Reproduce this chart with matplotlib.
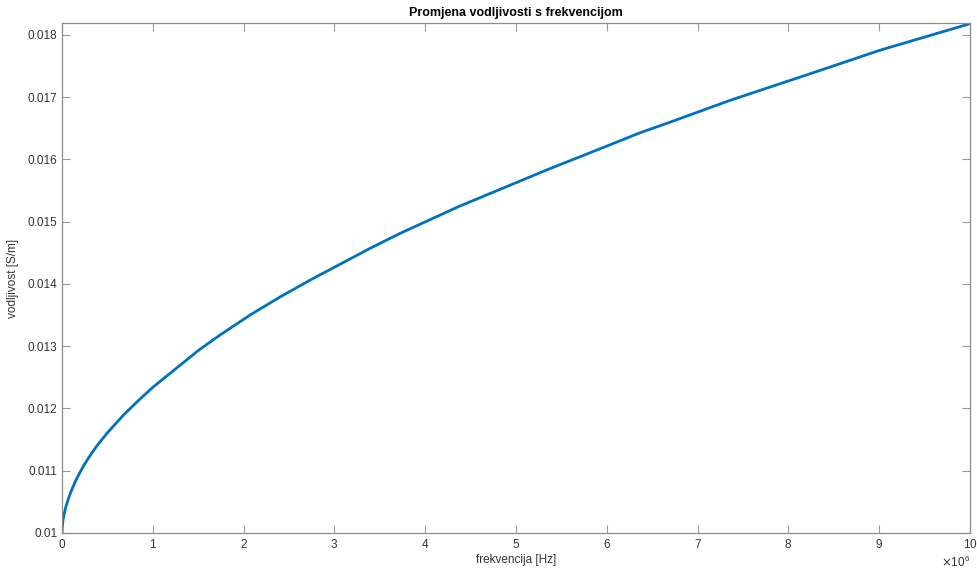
import matplotlib
matplotlib.use("Agg")
import matplotlib.pyplot as plt

# frequency in units of 1e6 Hz
freq_mhz = [0, 0.002, 0.005, 0.01, 0.02, 0.04, 0.07, 0.1, 0.15, 0.2, 0.25,
            0.33, 0.4, 0.5, 0.68, 0.85, 1.0, 1.5, 1.74, 2.07, 2.4, 2.73,
            3.39, 3.72, 4.38, 4.71, 5.37, 5.7, 6.37, 6.7, 7.36, 7.69, 8.35,
            9.0, 10.0]
# conductivity in S/m
sigma = [0.01, 0.01008, 0.01013, 0.0102, 0.01028, 0.01041, 0.01055, 0.01067,
         0.01084, 0.01098, 0.01111, 0.01129, 0.01143, 0.01161, 0.0119, 0.01214,
         0.01234, 0.01293, 0.01318, 0.0135, 0.01379, 0.01406, 0.01457,
         0.01481, 0.01525, 0.01545, 0.01585, 0.01604, 0.01643, 0.0166,
         0.01695, 0.01711, 0.01743, 0.01775, 0.01818]

freq_hz = [f * 1e6 for f in freq_mhz]

plt.rcParams['font.family'] = ['Liberation Sans', 'DejaVu Sans']
plt.rcParams['font.size'] = 8.5

fig = plt.figure(figsize=(9.77, 5.77), dpi=100)
ax = fig.add_axes([0.0635, 0.0763, 0.9293, 0.8837])

ax.plot(freq_hz, sigma, color='#0072BD', linewidth=2)

ax.set_xlim(0, 1e7)
ax.set_ylim(0.01, 0.01819)
ax.set_xticks([i * 1e6 for i in range(11)])
ax.set_yticks([0.010, 0.011, 0.012, 0.013, 0.014, 0.015, 0.016, 0.017, 0.018])
ax.set_yticklabels(['0.01', '0.011', '0.012', '0.013', '0.014', '0.015',
                    '0.016', '0.017', '0.018'])
ax.ticklabel_format(axis='x', style='sci', scilimits=(6, 6), useMathText=True)

ax.tick_params(direction='in', length=6, width=0.8, colors='0.6',
               labelcolor='0.2', top=True, right=True)
for s in ax.spines.values():
    s.set_color('0.55')
    s.set_linewidth(0.9)

ax.xaxis.get_offset_text().set_color('0.2')
ax.xaxis.get_offset_text().set_fontsize(8.5)

ax.set_title('Promjena vodljivosti s frekvencijom', fontweight='bold',
             fontsize=9, pad=5)
ax.set_xlabel('frekvencija [Hz]', color='0.2', labelpad=2)
ax.set_ylabel('vodljivost [S/m]', color='0.2', labelpad=6)

fig.savefig('out.png', dpi=100)
